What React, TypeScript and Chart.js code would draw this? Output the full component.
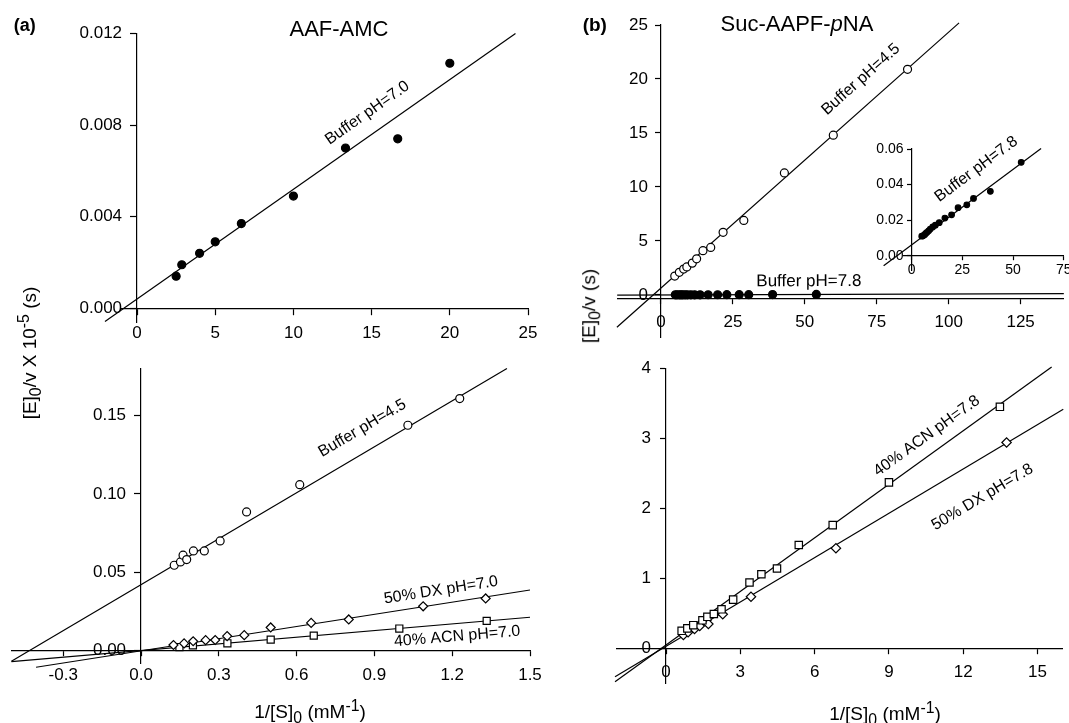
import React, { useEffect, useRef } from 'react';
import { Chart, registerables } from 'chart.js';

Chart.register(...registerables);

const W = 1069;
const H = 723;
const FONT = '"Liberation Sans", Arial, Helvetica, sans-serif';

// ---------- (a) AAF-AMC, top: Buffer pH=7.0 ----------
const aafTopX = [2.5, 2.86, 4.0, 5.0, 6.67, 10.0, 13.33, 16.67, 20.0];
const aafTopY = [0.0014, 0.0019, 0.0024, 0.0029, 0.0037, 0.0049, 0.007, 0.0074, 0.0107];
const aafTopFitX = [-2.05, 24.2];
const aafTopFitY = [-0.00058, 0.012];
const aafTopXTicks = [0, 5, 10, 15, 20, 25];
const aafTopYTicks = [0, 0.004, 0.008, 0.012];

// ---------- (a) AAF-AMC, bottom ----------
const aafAcidX = [0.128, 0.152, 0.162, 0.176, 0.202, 0.244, 0.305, 0.407, 0.612, 1.029, 1.229];
const aafAcidY = [0.0545, 0.0566, 0.0609, 0.0581, 0.0636, 0.0636, 0.07, 0.0885, 0.1059, 0.1438, 0.1608];
const aafAcidFitX = [-0.5, 1.411];
const aafAcidFitY = [-0.0067, 0.18];
const aafDxX = [0.125, 0.166, 0.201, 0.249, 0.286, 0.332, 0.398, 0.5, 0.656, 0.801, 1.088, 1.329];
const aafDxY = [0.0036, 0.0046, 0.006, 0.0067, 0.0068, 0.0093, 0.0099, 0.0148, 0.0177, 0.0199, 0.0283, 0.0333];
const aafDxFitX = [-0.405, 1.5];
const aafDxFitY = [-0.0106, 0.0387];
const aafAcnX = [0.148, 0.2, 0.333, 0.5, 0.666, 0.996, 1.333];
const aafAcnY = [0.0023, 0.0034, 0.0047, 0.007, 0.0096, 0.0141, 0.019];
const aafAcnFitX = [-0.5, 1.5];
const aafAcnFitY = [-0.007, 0.0213];
const aafBotXTicks = [-0.3, 0, 0.3, 0.6, 0.9, 1.2, 1.5];
const aafBotYTicks = [0, 0.05, 0.1, 0.15];

// ---------- (b) Suc-AAPF-pNA, top ----------
const sucAcidX = [4.8, 6.4, 7.9, 9.0, 10.9, 12.4, 14.6, 17.3, 21.6, 28.8, 42.9, 59.9, 85.7];
const sucAcidY = [1.75, 2.1, 2.4, 2.6, 2.95, 3.35, 4.1, 4.4, 5.8, 6.9, 11.3, 14.8, 20.9];
const sucAcidFitX = [-15.3, 103.6];
const sucAcidFitY = [-2.99, 25.2];
const sucBaseX = [5.0, 5.6, 6.4, 7.0, 7.6, 8.4, 9.2, 10.4, 11.7, 13.6, 16.4, 19.7, 22.9, 27.2, 30.5, 38.8, 54.0];
const sucBaseY = [0.011, 0.0112, 0.0118, 0.0126, 0.0132, 0.014, 0.015, 0.0162, 0.0172, 0.0186, 0.0212, 0.023, 0.027, 0.0286, 0.0322, 0.0362, 0.0525];
const sucBaseMainFitX = [-15.2, 140];
const sucBaseMainFitY = [-0.007, 0.125];
const sucBaseInsetFitX = [-13.8, 63.8];
const sucBaseInsetFitY = [-0.0056, 0.0603];
const sucTopXTicks = [0, 25, 50, 75, 100, 125];
const sucTopYTicks = [0, 5, 10, 15, 20, 25];
const insetXTicks = [0, 25, 50, 75];
const insetYTicks = [0, 0.02, 0.04, 0.06];

// ---------- (b) Suc-AAPF-pNA, bottom ----------
const sucAcnX = [0.63, 0.86, 1.1, 1.47, 1.67, 1.93, 2.24, 2.71, 3.37, 3.85, 4.48, 5.36, 6.73, 9.0, 13.48];
const sucAcnY = [0.25, 0.285, 0.33, 0.4, 0.45, 0.49, 0.557, 0.695, 0.94, 1.058, 1.14, 1.476, 1.76, 2.37, 3.45];
const sucAcnFitX = [-2.06, 15.57];
const sucAcnFitY = [-0.477, 4.02];
const sucDxX = [0.7, 0.89, 1.15, 1.36, 1.71, 2.29, 3.43, 6.86, 13.75];
const sucDxY = [0.19, 0.23, 0.276, 0.318, 0.347, 0.486, 0.737, 1.43, 2.94];
const sucDxFitX = [-2.06, 16.04];
const sucDxFitY = [-0.405, 3.414];
const sucBotXTicks = [0, 3, 6, 9, 12, 15];
const sucBotYTicks = [0, 1, 2, 3, 4];

const pts = (xs: number[], ys: number[]) => xs.map((x, i) => ({ x, y: ys[i] }));

type Marker = 'filled' | 'open' | 'square' | 'diamond';

function markerSet(xs: number[], ys: number[], kind: Marker, r: number) {
  return {
    data: pts(xs, ys),
    showLine: false,
    pointStyle: kind === 'square' ? 'rect' : kind === 'diamond' ? 'rectRot' : 'circle',
    pointRadius: r,
    pointBackgroundColor: kind === 'filled' ? '#000' : '#fff',
    pointBorderColor: '#000',
    pointBorderWidth: 1.2,
    clip: false,
    order: 0,
  };
}

function fitSet(xs: number[], ys: number[]) {
  return {
    data: pts(xs, ys),
    showLine: true,
    borderColor: '#000',
    borderWidth: 1.2,
    pointRadius: 0,
    clip: false,
    order: 1,
  };
}

const lineLabelPlugin = {
  id: 'lineLabels',
  afterDatasetsDraw(chart: any, _args: any, opts: any) {
    const items = (opts && opts.items) || [];
    const xs = chart.scales.x;
    const ys = chart.scales.y;
    const ctx = chart.ctx;
    items.forEach((it: any) => {
      const x1 = xs.getPixelForValue(it.lineX[0]);
      const y1 = ys.getPixelForValue(it.lineY[0]);
      const x2 = xs.getPixelForValue(it.lineX[1]);
      const y2 = ys.getPixelForValue(it.lineY[1]);
      const ang = Math.atan2(y2 - y1, x2 - x1);
      const t = (it.at - it.lineX[0]) / (it.lineX[1] - it.lineX[0]);
      const px = x1 + t * (x2 - x1);
      const py = y1 + t * (y2 - y1);
      ctx.save();
      ctx.translate(px, py);
      ctx.rotate(ang);
      ctx.font = `${it.size}px ${FONT}`;
      ctx.fillStyle = '#000';
      ctx.textAlign = 'center';
      ctx.textBaseline = 'middle';
      ctx.fillText(it.text, 0, -it.offset);
      ctx.restore();
    });
  },
};

interface AxisOpt {
  min: number;
  max: number;
  ticks: number[];
  dec: number;
  position: any;
  size: number;
  tickLength: number;
  padding: number;
}

function axis(o: AxisOpt) {
  return {
    type: 'linear',
    min: o.min,
    max: o.max,
    position: o.position,
    afterFit: (s: any) => {
      if (s.isHorizontal()) s.height = 0;
      else s.width = 0;
      s.paddingLeft = 0;
      s.paddingRight = 0;
      s.paddingTop = 0;
      s.paddingBottom = 0;
      // a value-positioned y axis puts its labels right on the axis line:
      // move them out by the tick length plus padding
      if (!s.isHorizontal() && !s.__shifted && typeof s._computeLabelItems === 'function') {
        const orig = s._computeLabelItems;
        const shift = o.tickLength + o.padding;
        s._computeLabelItems = function (area: any) {
          const items = orig.call(this, area);
          items.forEach((it: any) => {
            if (it && it.options && Array.isArray(it.options.translation)) {
              it.options.translation[0] -= shift;
            }
          });
          return items;
        };
        s.__shifted = true;
      }
    },
    afterBuildTicks: (s: any) => {
      s.ticks = o.ticks.map((v) => ({ value: v }));
    },
    grid: {
      display: true,
      drawOnChartArea: false,
      drawTicks: true,
      tickLength: o.tickLength,
      tickColor: '#000',
      tickWidth: 1.2,
    },
    border: { display: true, color: '#000', width: 1.2 },
    ticks: {
      color: '#000',
      font: { family: FONT, size: o.size },
      padding: o.padding,
      autoSkip: false,
      maxRotation: 0,
      minRotation: 0,
      callback: (v: any) => Number(v).toFixed(o.dec),
    },
  };
}

interface PanelSpec {
  area: { left: number; top: number; right: number; bottom: number };
  x: AxisOpt;
  y: AxisOpt;
  datasets: any[];
  labels: any[];
}

const panels: PanelSpec[] = [
  {
    area: { left: 121.4, top: 33.5, right: 528, bottom: 322 },
    x: { min: -1, max: 25, ticks: aafTopXTicks, dec: 0, position: { y: 0 }, size: 17, tickLength: 6, padding: 9 },
    y: { min: -0.0006, max: 0.012, ticks: aafTopYTicks, dec: 3, position: { x: 0 }, size: 17, tickLength: 6, padding: 9 },
    datasets: [fitSet(aafTopFitX, aafTopFitY), markerSet(aafTopX, aafTopY, 'filled', 4)],
    labels: [{ lineX: aafTopFitX, lineY: aafTopFitY, at: 15.46, offset: 20, text: 'Buffer pH=7.0', size: 16 }],
  },
  {
    area: { left: 11.4, top: 368.5, right: 530, bottom: 663.2 },
    x: { min: -0.5, max: 1.5, ticks: aafBotXTicks, dec: 1, position: { y: 0 }, size: 17, tickLength: 5, padding: 9 },
    y: { min: -0.008, max: 0.18, ticks: aafBotYTicks, dec: 2, position: { x: 0 }, size: 17, tickLength: 6, padding: 9 },
    datasets: [
      fitSet(aafAcidFitX, aafAcidFitY),
      fitSet(aafDxFitX, aafDxFitY),
      fitSet(aafAcnFitX, aafAcnFitY),
      markerSet(aafAcidX, aafAcidY, 'open', 4),
      markerSet(aafDxX, aafDxY, 'diamond', 4.5),
      markerSet(aafAcnX, aafAcnY, 'square', 5),
    ],
    labels: [
      { lineX: aafAcidFitX, lineY: aafAcidFitY, at: 0.897, offset: 22, text: 'Buffer pH=4.5', size: 16 },
      { lineX: aafDxFitX, lineY: aafDxFitY, at: 1.165, offset: 13.5, text: '50% DX pH=7.0', size: 16 },
      { lineX: aafAcnFitX, lineY: aafAcnFitY, at: 1.215, offset: -13, text: '40% ACN pH=7.0', size: 16 },
    ],
  },
  {
    area: { left: 617.2, top: 25, right: 1069, bottom: 337.1 },
    x: { min: -15.2, max: 140, ticks: sucTopXTicks, dec: 0, position: { y: -0.35 }, size: 17, tickLength: 5, padding: 8 },
    y: { min: -3.9, max: 25, ticks: sucTopYTicks, dec: 0, position: { x: 0 }, size: 17, tickLength: 5, padding: 8 },
    datasets: [
      fitSet(sucAcidFitX, sucAcidFitY),
      fitSet(sucBaseMainFitX, sucBaseMainFitY),
      markerSet(sucAcidX, sucAcidY, 'open', 4),
      markerSet(sucBaseX, sucBaseY, 'filled', 4),
    ],
    labels: [
      { lineX: sucAcidFitX, lineY: sucAcidFitY, at: 74.8, offset: 23, text: 'Buffer pH=4.5', size: 16 },
      { lineX: sucBaseMainFitX, lineY: sucBaseMainFitY, at: 51.4, offset: 13, text: 'Buffer pH=7.8', size: 17 },
    ],
  },
  {
    area: { left: 903.5, top: 149, right: 1065.6, bottom: 270 },
    x: { min: -4, max: 75, ticks: insetXTicks, dec: 0, position: { y: 0 }, size: 14, tickLength: 4, padding: 2 },
    y: { min: -0.008, max: 0.06, ticks: insetYTicks, dec: 2, position: { x: 0 }, size: 14, tickLength: 4, padding: 4 },
    datasets: [fitSet(sucBaseInsetFitX, sucBaseInsetFitY), markerSet(sucBaseX, sucBaseY, 'filled', 2.8)],
    labels: [{ lineX: sucBaseInsetFitX, lineY: sucBaseInsetFitY, at: 38.4, offset: 22, text: 'Buffer pH=7.8', size: 16 }],
  },
  {
    area: { left: 616.5, top: 368.3, right: 1062.3, bottom: 683.3 },
    x: { min: -2, max: 16, ticks: sucBotXTicks, dec: 0, position: { y: 0 }, size: 17, tickLength: 5, padding: 9 },
    y: { min: -0.5, max: 4, ticks: sucBotYTicks, dec: 0, position: { x: 0 }, size: 17, tickLength: 5, padding: 10 },
    datasets: [
      fitSet(sucAcnFitX, sucAcnFitY),
      fitSet(sucDxFitX, sucDxFitY),
      markerSet(sucAcnX, sucAcnY, 'square', 5.2),
      markerSet(sucDxX, sucDxY, 'diamond', 4.7),
    ],
    labels: [
      { lineX: sucAcnFitX, lineY: sucAcnFitY, at: 10.93, offset: 17, text: '40% ACN pH=7.8', size: 16 },
      { lineX: sucDxFitX, lineY: sucDxFitY, at: 12.07, offset: -34, text: '50% DX pH=7.8', size: 16 },
    ],
  },
];

function PanelChart({ spec }: { spec: PanelSpec }) {
  const ref = useRef<HTMLCanvasElement | null>(null);
  useEffect(() => {
    if (!ref.current) return;
    const chart = new Chart(ref.current, {
      type: 'scatter',
      data: { datasets: spec.datasets },
      plugins: [lineLabelPlugin],
      options: {
        responsive: false,
        maintainAspectRatio: false,
        devicePixelRatio: 1,
        animation: false,
        events: [],
        layout: {
          padding: {
            left: spec.area.left,
            top: spec.area.top,
            right: W - spec.area.right,
            bottom: H - spec.area.bottom,
          },
        },
        scales: { x: axis(spec.x), y: axis(spec.y) } as any,
        plugins: {
          legend: { display: false },
          tooltip: { enabled: false },
          lineLabels: { items: spec.labels },
        } as any,
      },
    } as any);
    return () => chart.destroy();
  }, [spec]);
  return (
    <canvas
      ref={ref}
      width={W}
      height={H}
      style={{ position: 'absolute', left: 0, top: 0, width: W, height: H }}
    />
  );
}

const txt = (x: number, y: number, size: number, extra: React.CSSProperties = {}): React.CSSProperties => ({
  position: 'absolute',
  left: x,
  top: y,
  transform: 'translate(-50%, -50%)',
  fontSize: size,
  lineHeight: 1,
  whiteSpace: 'nowrap',
  color: '#000',
  ...extra,
});

export default function App() {
  useEffect(() => {
    document.body.style.margin = '0';
  }, []);
  return (
    <div
      style={{
        position: 'absolute',
        left: 0,
        top: 0,
        width: W,
        height: H,
        overflow: 'hidden',
        background: '#fff',
        fontFamily: FONT,
      }}
    >
      {panels.map((p, i) => (
        <PanelChart key={i} spec={p} />
      ))}
      <div style={txt(24.7, 24.5, 18, { fontWeight: 'bold' })}>(a)</div>
      <div style={txt(594.8, 24, 19, { fontWeight: 'bold' })}>(b)</div>
      <div style={txt(339, 29, 22)}>AAF-AMC</div>
      <div style={txt(797, 23.5, 22)}>
        Suc-AAPF-<i>p</i>NA
      </div>
      <div style={txt(30, 353, 19, { transform: 'translate(-50%, -50%) rotate(-90deg)' })}>
        [E]<sub>0</sub>/v X 10<sup>-5</sup> (s)
      </div>
      <div style={txt(591, 306, 19, { transform: 'translate(-50%, -50%) rotate(-90deg)' })}>
        [E]<sub>0</sub>/v (s)
      </div>
      <div style={txt(310, 712, 19)}>
        1/[S]<sub>0</sub> (mM<sup>-1</sup>)
      </div>
      <div style={txt(885, 714, 19)}>
        1/[S]<sub>0</sub> (mM<sup>-1</sup>)
      </div>
    </div>
  );
}
